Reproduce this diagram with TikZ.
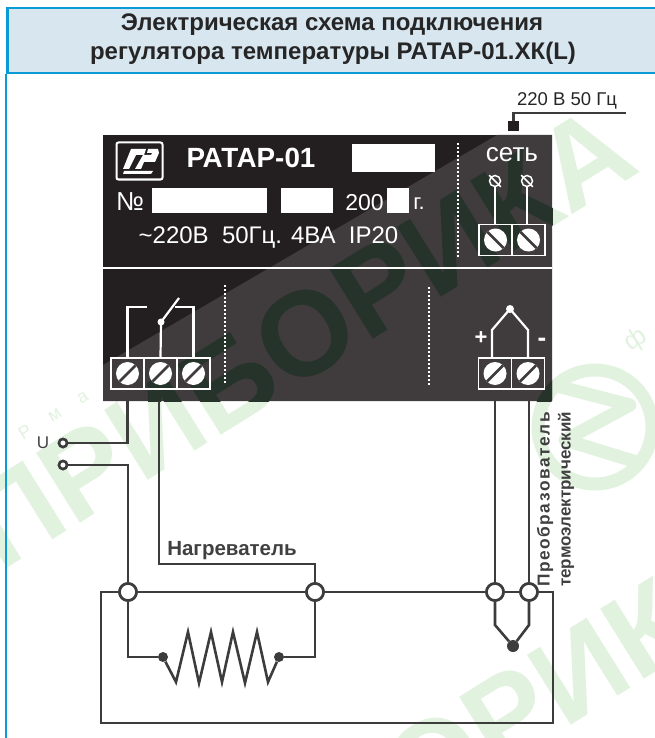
\documentclass[tikz,border=0pt]{standalone}
\usepackage{fontspec}
\setmainfont{Liberation Sans}
\newfontfamily\widefont[LetterSpace=9]{Liberation Sans}
\usetikzlibrary{positioning}
\definecolor{panelDark}{HTML}{231F20}
\definecolor{panelGray}{HTML}{403C3D}
\definecolor{wireGray}{HTML}{3C3C3C}
\definecolor{headBlue}{HTML}{0A9AD6}
\definecolor{headFill}{HTML}{D8E6F0}
\definecolor{markPale}{HTML}{E1F2DF}
\definecolor{markDark}{HTML}{26332A}
\newcommand{\fsize}[1]{\fontsize{#1}{#1}\selectfont}
\begin{document}
\begin{tikzpicture}[
      x=1pt, y=-1pt,
      wire/.style={draw=wireGray, line width=2.6},
      inwire/.style={draw=white, line width=2.2},
      termbox/.style={draw=white, line width=1.3, inner sep=0, minimum width=33, minimum height=31},
      screw/.style={circle, fill=white, inner sep=0, minimum size=23, path picture={
          \draw[panelGray, line width=2.5] (path picture bounding box.south west) -- (path picture bounding box.north east);}},
      screwb/.style={circle, fill=white, inner sep=0, minimum size=23, path picture={
          \draw[panelGray, line width=2.5] (path picture bounding box.north west) -- (path picture bounding box.south east);}},
      joint/.style={circle, draw=wireGray, fill=white, line width=2.6, inner sep=0, minimum size=17},
      port/.style={circle, draw=wireGray, fill=white, line width=2.5, inner sep=0, minimum size=8},
      blob/.style={circle, fill=wireGray, inner sep=0, minimum size=10},
      clamp/.style={circle, draw=white, line width=1.5, inner sep=0, minimum size=11},
      whitebox/.style={fill=white, inner sep=0},
      plate/.style={text=white, inner sep=0},
      dotline/.style={draw=white, line width=2, dash pattern=on 2pt off 2pt},
      wmark/.style={text=markPale, inner sep=0, rotate=32, anchor=base west}
    ]
    \useasboundingbox (0,0) rectangle (654,738);

    % watermark
    \node[wmark, font=\bfseries\fsize{120}] (markA) at (0,573) {ПРИБОРИКА};
    \node[wmark, font=\bfseries\fsize{120}] (markB) at (130,1001) {ПРИБОРИКА};
    \node[wmark, font=\fsize{18}] (markC) at (23,441) {Р\hspace{22pt}м\hspace{22pt}а};
    \node[wmark, font=\fsize{26}] (markD) at (630,352) {ф};
    \draw[markPale, line width=13] (595,427) circle (57);
    \draw[markPale, line width=13, line join=round] (553,385) -- (630,405) -- (565,440) -- (640,463);

    % header
    \node[fill=headFill, draw=headBlue, line width=2.5, minimum width=660, minimum height=65, inner sep=0, anchor=north west] (head) at (6,7) {};
    \draw[headBlue, line width=2.5] (head.south west) -- (6,740);
    \node[font=\bfseries\fsize{24}, text=black!85, inner sep=0] (titleA) at (332,25) {Электрическая схема подключения};
    \node[font=\bfseries\fsize{24}, text=black!85, inner sep=0] (titleB) at (333,53) {регулятора температуры РАТАР-01.ХК(L)};

    % panel
    \node[fill=panelDark, inner sep=0, minimum width=449, minimum height=266] (panel) at (327.5,268) {};
    \fill[panelGray] (497,135) -- (552,135) -- (552,401) -- (103,401) -- (103,365) -- cycle;
    \begin{scope}
      \clip (103,135) rectangle (552,401);
      \node[wmark, text=markDark, font=\bfseries\fsize{120}] (markE) at (0,573) {ПРИБОРИКА};
      \draw[markDark, line width=13] (595,427) circle (57);
    \end{scope}
    \draw[draw=white, line width=2] (panel.west) -- (panel.east);

    % logo
    \node[draw=white, line width=2, rounded corners=2, inner sep=0, minimum width=46, minimum height=37] (logo) at (139.5,161) {};
    \fill[white] (131,149) -- (146,149) -- (144,155) -- (136,155) -- (129,169) -- (123,169) -- cycle;
    \fill[white] (148,149) -- (158,149) -- (159,153) -- (155,162) -- (144,162) -- (141,169) -- (135,169) -- (143,155) -- (151,155) -- (152,153) -- (147,153) -- cycle;
    \fill[white] (124,171) -- (153,171) -- (151,174) -- (123,174) -- cycle;

    % plate texts
    \node[plate, font=\bfseries\fsize{27.8}] (name) at (251,158) {РАТАР-01};
    \node[whitebox, minimum width=83, minimum height=28] (boxA) at (393.5,158) {};
    \node[plate, font=\fsize{26}] (numsign) at (130,202) {№};
    \node[whitebox, minimum width=115, minimum height=25] (boxB) at (209.5,200.5) {};
    \node[whitebox, minimum width=52, minimum height=25] (boxC) at (307,200.5) {};
    \node[plate, font=\fsize{23}] (year) at (364.5,203) {200};
    \node[whitebox, minimum width=22, minimum height=25] (boxD) at (398,200.5) {};
    \node[plate, font=\fsize{22}] (yearmark) at (419,204) {г.};
    \node[plate, font=\fsize{24}] (specs) at (268.5,238) {\char`~220В\ \ 50Гц. 4ВА\ \ IP20};
    \node[plate, font=\fsize{26}] (net) at (512,155) {сеть};
    \node[plate, font=\bfseries\fsize{22}] (plus) at (481,338) {+};
    \node[plate, font=\bfseries\fsize{26}] (minus) at (542,342) {-};

    % separators
    \coordinate (sepAa) at (458,143);
    \coordinate (sepAb) at (458,258);
    \coordinate (sepBa) at (225,285);
    \coordinate (sepBb) at (225,383);
    \coordinate (sepCa) at (429,287);
    \coordinate (sepCb) at (429,385);
    \draw[dotline] (sepAa) -- (sepAb);
    \draw[dotline] (sepBa) -- (sepBb);
    \draw[dotline] (sepCa) -- (sepCb);

    % mains terminals
    \node[termbox] (mA) at (495.5,240) {};
    \node[termbox] (mB) at (528.5,240) {};
    \node[screwb] (smA) at (mA) {};
    \node[screwb] (smB) at (mB) {};
    \node[clamp] (cA) at (495,181) {};
    \node[clamp] (cB) at (527,181) {};
    \draw[draw=white, line width=1.5, shorten <=-2, shorten >=-2] (cA.north west) -- (cA.south east);
    \draw[draw=white, line width=1.5, shorten <=-2, shorten >=-2] (cB.north west) -- (cB.south east);
    \draw[inwire] (cA) -- (cA |- mA.north);
    \draw[inwire] (cB) -- (cB |- mB.north);

    % relay terminals
    \node[termbox] (kA) at (127.5,373.5) {};
    \node[termbox] (kB) at (160.5,373.5) {};
    \node[termbox] (kC) at (193.5,373.5) {};
    \node[screw] (skA) at (kA) {};
    \node[screw] (skB) at (kB) {};
    \node[screw] (skC) at (kC) {};
    \coordinate (pivot) at (161,322);
    \coordinate (bladeEnd) at (179,298);
    \coordinate (contactA) at (147,307);
    \coordinate (contactB) at (175,307);
    \draw[inwire] (kA.north) -- (kA.north |- contactA) -- (contactA);
    \draw[inwire] (kC.north) -- (kC.north |- contactB) -- (contactB);
    \draw[inwire] (kB.north) -- (pivot) -- (bladeEnd);
    \fill[white] (pivot) circle (3.5);

    % sensor terminals
    \node[termbox] (tA) at (495,373.5) {};
    \node[termbox] (tB) at (528,373.5) {};
    \node[screw] (stA) at (tA) {};
    \node[screw] (stB) at (tB) {};
    \coordinate (apex) at (510,309);
    \draw[inwire] (492,358) -- (492,330) -- (apex) -- (528,330) -- (tB.north);
    \fill[white] (apex) circle (4);

    % supply
    \node[fill=panelDark, inner sep=0, minimum width=11, minimum height=10] (plug) at (513.5,126) {};
    \coordinate (supplyEnd) at (626,113);
    \draw[wire] (plug.north) -- (plug.north |- supplyEnd) -- (supplyEnd);
    \node[font=\fsize{18.5}, text=black!85, inner sep=0] (supply) at (567,101) {220 В 50 Гц};

    % outer joints
    \node[port] (uA) at (63,443) {};
    \node[port] (uB) at (63,465) {};
    \node[font=\fsize{17}, text=black!75, inner sep=0] (ulabel) at (43,443) {U};
    \node[joint] (nA) at (128,592) {};
    \node[joint] (nB) at (315,592) {};
    \node[joint] (nC) at (495,592) {};
    \node[joint] (nD) at (529,592) {};
    \node[blob] (hA) at (163,657) {};
    \node[blob] (hB) at (279,657) {};
    \node[circle, fill=wireGray, inner sep=0, minimum size=12] (tip) at (513,646) {};
    \coordinate (loopA) at (101,592);
    \coordinate (loopB) at (101,723);
    \coordinate (loopC) at (553,723);
    \coordinate (loopD) at (553,592);
    \coordinate (bendH) at (159,564);

    % outer wires
    \draw[wire] (kA |- panel.south) -- (kA |- uA) -- (uA);
    \draw[wire] (uB) -- (uB -| nA) -- (nA);
    \draw[wire] (bendH |- panel.south) -- (bendH) -- (bendH -| nB) -- (nB);
    \draw[wire] (tA |- panel.south) -- (nC);
    \draw[wire] (nD |- panel.south) -- (nD);
    \draw[wire] (nA) -- (nB);
    \draw[wire] (nB) -- (nC);
    \draw[wire] (nC) -- (nD);
    \draw[wire] (nA) -- (loopA) -- (loopB) -- (loopC) -- (loopD) -- (nD);
    \draw[wire] (nA) -- (nA |- hA) -- (hA);
    \draw[wire] (nB) -- (nB |- hB) -- (hB);
    \draw[wire, miter limit=10] (hA) -- ++(13,25) -- ++(12,-50) -- ++(11,51) -- ++(12,-51) -- ++(11,50) -- ++(11,-50) -- ++(12,51) -- ++(12,-51) -- ++(11,50) -- (hB);
    \draw[wire] (nC) -- (495,625) -- (tip) -- (529,625) -- (nD);

    % redraw joints over the wires
    \node[joint] at (nA) {};
    \node[joint] at (nB) {};
    \node[joint] at (nC) {};
    \node[joint] at (nD) {};
    \node[port] at (uA) {};
    \node[port] at (uB) {};

    % outer labels
    \node[font=\bfseries\fsize{20.5}, text=black!75, inner sep=0] (heater) at (232,551) {Нагреватель};
    \node[font=\widefont\bfseries\fsize{17.3}, text=black!75, inner sep=0, rotate=90, anchor=west] (sensorA) at (545,587) {Преобразователь};
    \node[font=\bfseries\fsize{17}, text=black!75, inner sep=0, rotate=90, anchor=west] (sensorB) at (566,587) {термоэлектрический};
\end{tikzpicture}
\end{document}
